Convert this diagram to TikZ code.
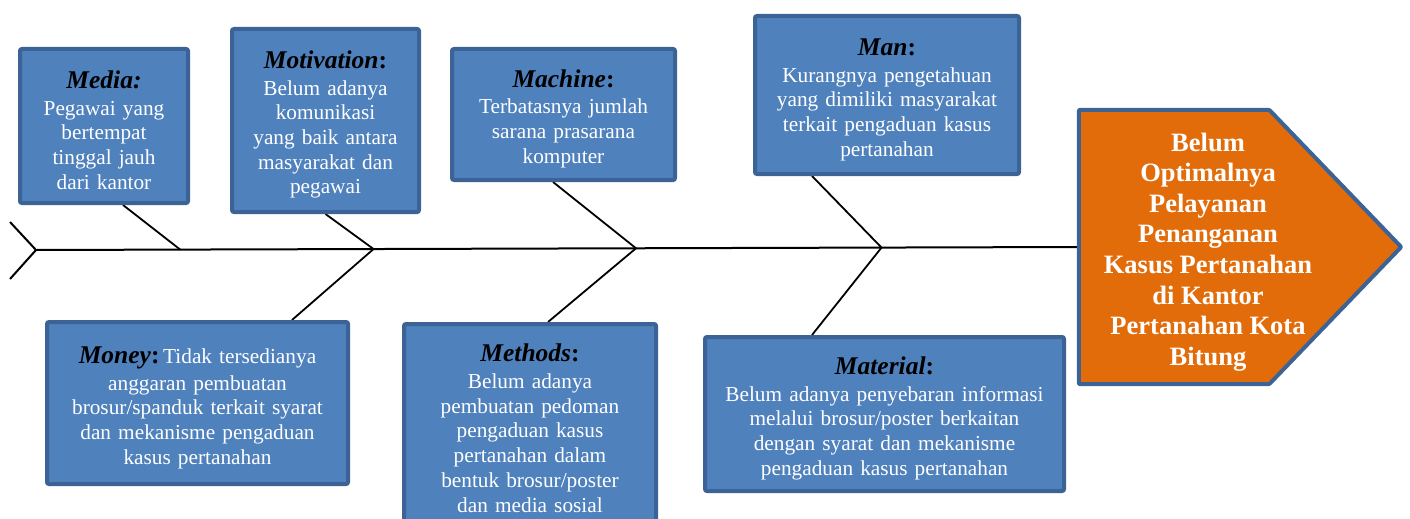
\documentclass[tikz,border=0pt]{standalone}
\usepackage{fontspec}
\setmainfont{Liberation Serif}
\usetikzlibrary{backgrounds,calc}
\definecolor{boxfill}{HTML}{4F81BD}
\definecolor{boxline}{HTML}{3C6395}
\definecolor{effectfill}{HTML}{E36C0A}
\newcommand\bodyf{\fontsize{21.3}{24.7}\selectfont}
\newcommand\titlef{\fontsize{25.5}{27}\selectfont}
\newcommand\efff{\fontsize{26.5}{30.6}\selectfont}
\newcommand\topgap{\rule{0pt}{26pt}}
\newcommand\ttl[1]{{\color{black}\titlef\topgap\textbf{\textit{#1}:}}}
\begin{document}
\begin{tikzpicture}[x=1pt,y=-1pt,
  cause/.style={draw=boxline, fill=boxfill, line width=4pt, rounded corners=2pt,
    inner sep=0pt, align=center, text=white, font=\bodyf},
  bone/.style={line width=1.8pt, black},
  spineline/.style={line width=2pt, black},
  effectshape/.style={draw=boxline, fill=effectfill, line width=4pt, rounded corners=1pt, line join=round}]
\useasboundingbox (0,0) rectangle (1410,519);

\node[cause, minimum width=168pt, minimum height=154pt, text width=160pt] (media) at (104,126)
  {{\color{black}\titlef\topgap\textbf{\textit{Media:}}}\\[2pt] Pegawai yang\\ bertempat\\ tinggal jauh\\ dari kantor};
\node[cause, minimum width=187pt, minimum height=183pt, text width=180pt] (motivation) at (325.5,120.5)
  {\ttl{Motivation}\\[2pt] Belum adanya\\ komunikasi\\ yang baik antara\\ masyarakat dan\\ pegawai};
\node[cause, minimum width=223pt, minimum height=131pt, text width=215pt] (machine) at (563.5,114.5)
  {\ttl{Machine}\\[2pt] Terbatasnya jumlah\\ sarana prasarana\\ komputer};
\node[cause, minimum width=264pt, minimum height=158pt, text width=255pt] (man) at (887,95)
  {\ttl{Man}\\[2pt] Kurangnya pengetahuan\\ yang dimiliki masyarakat\\ terkait pengaduan kasus\\ pertanahan};
\node[cause, minimum width=301pt, minimum height=162pt, text width=292pt] (money) at (197.5,403)
  {\ttl{Money}\,Tidak tersedianya\\[2pt] anggaran pembuatan\\ brosur/spanduk terkait syarat\\ dan mekanisme pengaduan\\ kasus pertanahan};
\node[cause, minimum width=252pt, minimum height=200pt, text width=244pt] (methods) at (530,424)
  {\ttl{Methods}\\[2pt] Belum adanya\\ pembuatan pedoman\\ pengaduan kasus\\ pertanahan dalam\\ bentuk brosur/poster\\ dan media sosial};
\node[cause, minimum width=359pt, minimum height=154pt, text width=350pt] (material) at (884.5,414)
  {\ttl{Material}\\[2pt] Belum adanya penyebaran informasi\\ melalui brosur/poster berkaitan\\ dengan syarat dan mekanisme\\ pengaduan kasus pertanahan};

% effect: rectangular part as node, pointer drawn from its anchors
\node[minimum width=190pt, minimum height=274pt, inner sep=0pt] (effect) at (1174,247) {};
\draw[effectshape] (effect.north west) -- (effect.north east) -- ($(effect.east)+(132,0)$)
  -- (effect.south east) -- (effect.south west) -- cycle;
\node[text=white, font=\efff\bfseries, align=center, inner sep=0pt] (efftext) at (1208,252)
  {Belum\\ Optimalnya\\ Pelayanan\\ Penanganan\\ Kasus Pertanahan\\ di Kantor\\ Pertanahan Kota\\ Bitung};

\coordinate (tail) at (36,250);
\coordinate (tailup) at (10,222);
\coordinate (taildown) at (10,279);
\coordinate (j1) at ($(tail)!0.1383!(effect.west)$);
\coordinate (j2) at ($(tail)!0.3237!(effect.west)$);
\coordinate (j3) at ($(tail)!0.5754!(effect.west)$);
\coordinate (j4) at ($(tail)!0.8108!(effect.west)$);

\begin{pgfonlayer}{background}
\draw[spineline] (tailup) -- (tail) -- (taildown);
\draw[spineline] (tail) -- (effect.west);
\draw[bone] ([xshift=19pt]media.south) -- (j1);
\draw[bone] (motivation.south) -- (j2) -- ([xshift=94.5pt]money.north);
\draw[bone] ([xshift=-10.5pt]machine.south) -- (j3) -- ([xshift=18pt]methods.north);
\draw[bone] ([xshift=-75pt]man.south) -- (j4) -- ([xshift=-72.5pt]material.north);
\end{pgfonlayer}
\end{tikzpicture}
\end{document}
